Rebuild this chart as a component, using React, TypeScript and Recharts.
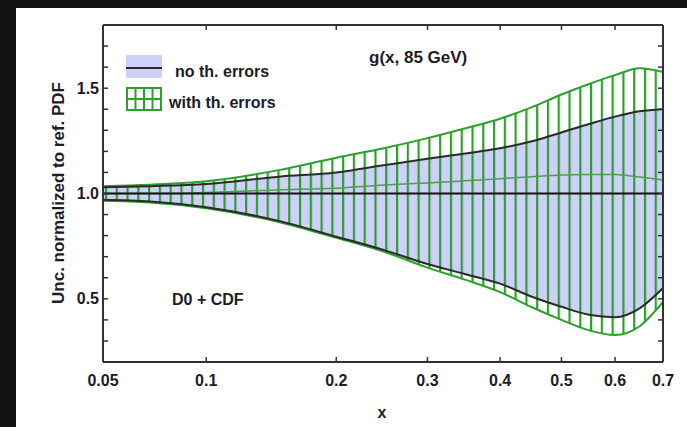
import React from 'react';
import { ComposedChart, Area, Line, XAxis, YAxis, ReferenceLine } from 'recharts';

// x values (momentum fraction)
const xValues = [0.05, 0.07, 0.1, 0.15, 0.2, 0.25, 0.3, 0.35, 0.4, 0.45, 0.5, 0.55, 0.6, 0.65, 0.7];
// band with theory errors (green hatched)
const greenUpper = [1.035, 1.042, 1.058, 1.111, 1.17, 1.216, 1.263, 1.31, 1.355, 1.41, 1.47, 1.52, 1.562, 1.595, 1.577];
const greenLower = [0.965, 0.957, 0.93, 0.865, 0.79, 0.722, 0.648, 0.59, 0.532, 0.46, 0.4, 0.35, 0.328, 0.37, 0.485];
// band without theory errors (blue)
const blueUpper = [1.03, 1.035, 1.045, 1.08, 1.1, 1.135, 1.165, 1.19, 1.215, 1.248, 1.29, 1.33, 1.365, 1.39, 1.4];
const blueLower = [0.97, 0.962, 0.935, 0.87, 0.795, 0.73, 0.665, 0.617, 0.572, 0.51, 0.462, 0.424, 0.413, 0.455, 0.551];
// central value with theory errors
const central = [1.0, 1.0, 1.005, 1.017, 1.025, 1.04, 1.05, 1.06, 1.07, 1.08, 1.088, 1.09, 1.09, 1.078, 1.064];

const xTicks = [0.05, 0.1, 0.2, 0.3, 0.4, 0.5, 0.6, 0.7];
const xTickLabels = ['0.05', '0.1', '0.2', '0.3', '0.4', '0.5', '0.6', '0.7'];
const yTicks = [0.2, 0.3, 0.4, 0.5, 0.6, 0.7, 0.8, 0.9, 1.0, 1.1, 1.2, 1.3, 1.4, 1.5, 1.6, 1.7, 1.8];
const yLabeled = [0.5, 1.0, 1.5];
const yLabelText = ['0.5', '1.0', '1.5'];

const title = 'g(x, 85 GeV)';
const subtitle = 'D0 + CDF';
const legendNames = ['no th. errors', 'with th. errors'];
const xTitle = 'x';
const yTitle = 'Unc. normalized to ref. PDF';

// cube-root axis transform
const tx = (x: number) => Math.cbrt(x);

const data = xValues.map((x, i) => ({
  xs: tx(x),
  green: [greenLower[i], greenUpper[i]],
  blue: [blueLower[i], blueUpper[i]],
  gU: greenUpper[i],
  gL: greenLower[i],
  bU: blueUpper[i],
  bL: blueLower[i],
  c: central[i],
}));

const xTickPos = xTicks.map(tx);
const fmtX = (v: number) => {
  const i = xTickPos.findIndex((t) => Math.abs(t - v) < 1e-6);
  return i >= 0 ? xTickLabels[i] : '';
};
const fmtY = (v: number) => {
  const i = yLabeled.findIndex((t) => Math.abs(t - v) < 1e-6);
  return i >= 0 ? yLabelText[i] : '';
};
const blank = () => '';

const GREEN = '#2ba02b';
const BLUE = '#cfcffb';
const DARK = '#2a2a2a';
const TXT = '#1b1b2b';
const FONT = '"Liberation Sans", Arial, Helvetica, sans-serif';

const axisLine = { stroke: '#333', strokeWidth: 2 };
const tickLine = { stroke: '#333', strokeWidth: 1.5 };
const tickStyle = { fill: TXT, fontSize: 16, fontWeight: 'bold' as const, fontFamily: FONT };

export default function App() {
  return (
    <div style={{ position: 'absolute', left: 0, top: 0, width: 687, height: 427, background: '#111', overflow: 'hidden' }}>
      <div style={{ position: 'absolute', left: 16, top: 8, width: 671, height: 419, background: '#fff' }} />
      <div style={{ position: 'absolute', left: 0, top: 0 }}>
        <ComposedChart width={687} height={427} data={data} margin={{ top: 20, right: 20, bottom: 25, left: 43 }}>
          <defs>
            <pattern id="vhatch" patternUnits="userSpaceOnUse" x={115.7} y={0} width={10.78} height={10}>
              <rect x={0} y={0} width={2.2} height={10} fill={GREEN} />
            </pattern>
          </defs>
          <XAxis
            dataKey="xs"
            type="number"
            domain={[tx(0.05), tx(0.7)]}
            ticks={xTickPos}
            tickFormatter={fmtX}
            allowDataOverflow
            height={40}
            tickSize={-5}
            tickMargin={18}
            axisLine={axisLine}
            tickLine={tickLine}
            tick={tickStyle}
            interval={0}
          />
          <XAxis
            xAxisId="top"
            orientation="top"
            dataKey="xs"
            type="number"
            domain={[tx(0.05), tx(0.7)]}
            ticks={xTickPos}
            tickFormatter={blank}
            allowDataOverflow
            height={5}
            tickSize={-5}
            axisLine={axisLine}
            tickLine={tickLine}
            interval={0}
          />
          <YAxis
            type="number"
            domain={[0.2, 1.8]}
            ticks={yTicks}
            tickFormatter={fmtY}
            allowDataOverflow
            width={60}
            tickSize={-5}
            tickMargin={9}
            axisLine={axisLine}
            tickLine={tickLine}
            tick={tickStyle}
            interval={0}
          />
          <YAxis
            yAxisId="right"
            orientation="right"
            type="number"
            domain={[0.2, 1.8]}
            ticks={yTicks}
            tickFormatter={blank}
            allowDataOverflow
            width={4}
            tickSize={-5}
            axisLine={axisLine}
            tickLine={tickLine}
            interval={0}
          />
          <Area dataKey="blue" type="monotone" fill={BLUE} fillOpacity={1} stroke="none" isAnimationActive={false} />
          <Area dataKey="green" type="monotone" fill="url(#vhatch)" fillOpacity={1} stroke="none" isAnimationActive={false} />
          <Line dataKey="gU" type="monotone" stroke={GREEN} strokeWidth={2} dot={false} isAnimationActive={false} />
          <Line dataKey="gL" type="monotone" stroke={GREEN} strokeWidth={2} dot={false} isAnimationActive={false} />
          <Line dataKey="bU" type="monotone" stroke={DARK} strokeWidth={2} dot={false} isAnimationActive={false} />
          <Line dataKey="bL" type="monotone" stroke={DARK} strokeWidth={2} dot={false} isAnimationActive={false} />
          <Line dataKey="c" type="monotone" stroke="#4f9f4f" strokeWidth={1.5} dot={false} isAnimationActive={false} />
          <ReferenceLine y={1} stroke="#111" strokeWidth={2} ifOverflow="visible" />
        </ComposedChart>
      </div>
      <svg width={687} height={427} style={{ position: 'absolute', left: 0, top: 0, pointerEvents: 'none' }}>
        <g fontFamily={FONT} fontWeight="bold" fill={TXT}>
          {/* legend */}
          <rect x={126} y={55} width={36} height={23} fill={BLUE} />
          <line x1={126} x2={162} y1={68} y2={68} stroke={DARK} strokeWidth={2} />
          <text x={175} y={71} fontSize={16} dominantBaseline="central">{legendNames[0]}</text>
          <rect x={127} y={88} width={34} height={22} fill="#fff" stroke={GREEN} strokeWidth={2} />
          <line x1={135.5} x2={135.5} y1={88} y2={110} stroke={GREEN} strokeWidth={2} />
          <line x1={144} x2={144} y1={88} y2={110} stroke={GREEN} strokeWidth={2} />
          <line x1={152.5} x2={152.5} y1={88} y2={110} stroke={GREEN} strokeWidth={2} />
          <line x1={127} x2={161} y1={99} y2={99} stroke={GREEN} strokeWidth={2} />
          <text x={169} y={102} fontSize={16} dominantBaseline="central">{legendNames[1]}</text>
          {/* annotations */}
          <text x={369} y={63} fontSize={17}>{title}</text>
          <text x={172} y={305} fontSize={16}>{subtitle}</text>
          {/* axis titles */}
          <text x={382} y={418} fontSize={16} textAnchor="middle">{xTitle}</text>
          <text x={64} y={193} fontSize={17} textAnchor="middle" transform="rotate(-90 64 193)">{yTitle}</text>
        </g>
      </svg>
    </div>
  );
}
